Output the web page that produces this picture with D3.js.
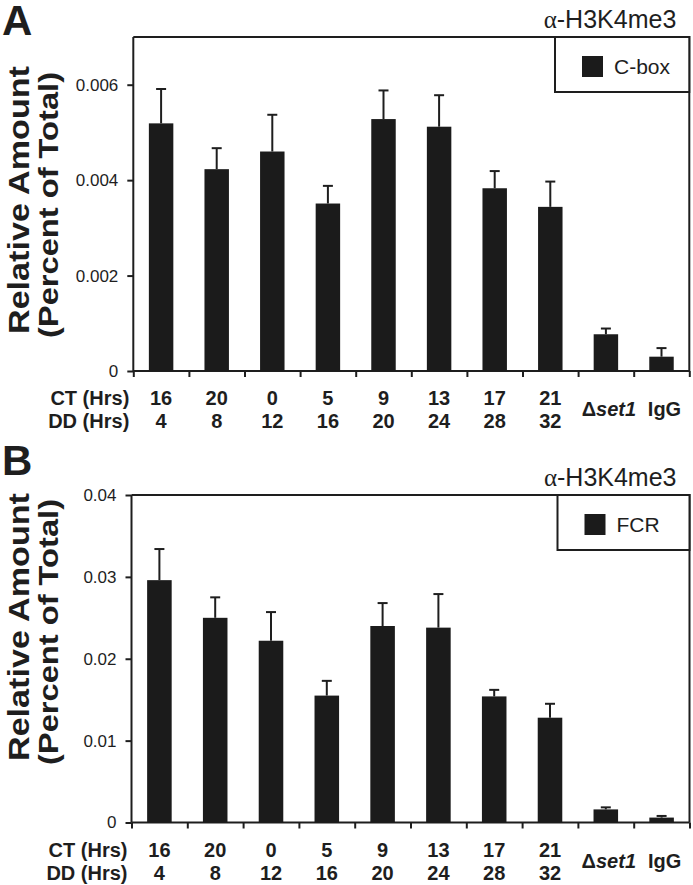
<!DOCTYPE html>
<html>
<head>
<meta charset="utf-8">
<script src="https://cdn.jsdelivr.net/npm/d3@7"></script>
<style>
  html, body { margin: 0; padding: 0; background: #fff; }
  svg { display: block; }
  text { font-family: "Liberation Sans", Arial, Helvetica, sans-serif; fill: #1e1e1e; }
</style>
</head>
<body>
<svg id="chart" width="693" height="885"></svg>
<script>
// ---------- data ----------
const ctLabels = ["16", "20", "0", "5", "9", "13", "17", "21"];
const ddLabels = ["4", "8", "12", "16", "20", "24", "28", "32"];
const controlLabels = ["Δset1", "IgG"];
const categories = ["CT16", "CT20", "CT0", "CT5", "CT9", "CT13", "CT17", "CT21", "set1", "IgG"];

const cboxValues = [0.00519, 0.00423, 0.00460, 0.00351, 0.00528, 0.00512, 0.00383, 0.00344, 0.00077, 0.00030];
const cboxErrors = [0.00072, 0.00044, 0.00077, 0.00037, 0.00060, 0.00066, 0.00036, 0.00053, 0.00012, 0.00018];
const fcrValues  = [0.0296, 0.0250, 0.0222, 0.0155, 0.0240, 0.0238, 0.0154, 0.0128, 0.0016, 0.0006];
const fcrErrors  = [0.0038, 0.0025, 0.0035, 0.0018, 0.0028, 0.0041, 0.0008, 0.0017, 0.00025, 0.0002];

const yTicksA = [0, 0.002, 0.004, 0.006];
const yTickLabelsA = ["0", "0.002", "0.004", "0.006"];
const yTicksB = [0, 0.01, 0.02, 0.03, 0.04];
const yTickLabelsB = ["0", "0.01", "0.02", "0.03", "0.04"];

const svg = d3.select("#chart");
const ink = "#1e1e1e";

function panel(cfg) {
  const g = svg.append("g");
  const x = d3.scaleBand().domain(categories).range([cfg.left, cfg.right]).padding(0);
  const y = d3.scaleLinear().domain([0, cfg.yMax]).range([cfg.bottom, cfg.top]);
  const bw = x.bandwidth() * 0.44;

  // frame (top/right)
  g.append("path")
    .attr("d", `M${cfg.left},${cfg.top}H${cfg.right}V${cfg.bottom}`)
    .attr("fill", "none").attr("stroke", ink).attr("stroke-width", 2);

  // left axis
  const yAxis = d3.axisLeft(y).tickValues(cfg.yTicks)
    .tickFormat((d, i) => cfg.yTickLabels[i]).tickSize(6).tickPadding(9);
  const ya = g.append("g").attr("transform", `translate(${cfg.left},0)`).call(yAxis);
  ya.select(".domain").attr("d", `M0,${cfg.top}V${cfg.bottom}`).attr("stroke", ink).attr("stroke-width", 2);
  ya.selectAll(".tick line").attr("stroke", ink).attr("stroke-width", 2);
  ya.selectAll(".tick text").attr("font-size", 17).attr("font-family", "Liberation Sans, Arial, sans-serif").attr("fill", ink);

  // bottom axis with ticks at band boundaries
  const idx = d3.scaleLinear().domain([0, categories.length]).range([cfg.left, cfg.right]);
  const xAxis = d3.axisBottom(idx).tickValues(d3.range(0, categories.length + 1)).tickSize(6).tickFormat("");
  const xa = g.append("g").attr("transform", `translate(0,${cfg.bottom})`).call(xAxis);
  xa.select(".domain").attr("d", `M${cfg.left},0H${cfg.right}`).attr("stroke", ink).attr("stroke-width", 2);
  xa.selectAll(".tick line").attr("stroke", ink).attr("stroke-width", 2);

  // bars
  g.selectAll("rect.bar").data(cfg.values).join("rect")
    .attr("class", "bar")
    .attr("x", (d, i) => x(categories[i]) + (x.bandwidth() - bw) / 2)
    .attr("width", bw)
    .attr("y", d => y(d))
    .attr("height", d => y(0) - y(d))
    .attr("fill", "#1b1b1b");

  // error bars (upper only)
  const eg = g.append("g").attr("stroke", ink).attr("stroke-width", 2);
  cfg.values.forEach((v, i) => {
    const cx = x(categories[i]) + x.bandwidth() / 2;
    const yt = y(v + cfg.errors[i]);
    eg.append("line").attr("x1", cx).attr("x2", cx).attr("y1", y(v)).attr("y2", yt);
    eg.append("line").attr("x1", cx - 5).attr("x2", cx + 5).attr("y1", yt).attr("y2", yt);
  });

  // legend
  const lg = g.append("g");
  lg.append("rect").attr("x", cfg.legendLeft).attr("y", cfg.top)
    .attr("width", cfg.right - cfg.legendLeft).attr("height", 55)
    .attr("fill", "#fff").attr("stroke", ink).attr("stroke-width", 2);
  lg.append("rect").attr("x", cfg.legendLeft + 27).attr("y", cfg.top + 19)
    .attr("width", 21).attr("height", 21).attr("fill", "#1b1b1b");
  lg.append("text").attr("x", cfg.legendLeft + 59).attr("y", cfg.top + 37)
    .attr("font-size", 21).text(cfg.series);

  // title
  const t = g.append("text").attr("x", cfg.right - 13).attr("y", cfg.top - 9)
    .attr("text-anchor", "end").attr("font-size", 25);
  t.append("tspan").attr("font-family", "Liberation Serif, serif").text("α");
  t.append("tspan").text("-H3K4me3");

  // panel letter
  g.append("text").attr("x", 2).attr("y", cfg.letterY)
    .attr("font-size", 42).attr("font-weight", "bold").text(cfg.letter);

  // y label
  const cy = cfg.labelCenter;
  g.append("text").attr("transform", `translate(29,${cy - 3}) rotate(-90)`)
    .attr("text-anchor", "middle").attr("font-size", 29).attr("font-weight", "bold")
    .attr("textLength", 268).attr("lengthAdjust", "spacingAndGlyphs")
    .text("Relative Amount");
  g.append("text").attr("transform", `translate(58,${cy + 2}) rotate(-90)`)
    .attr("text-anchor", "middle").attr("font-size", 28).attr("font-weight", "bold")
    .attr("textLength", 266).attr("lengthAdjust", "spacingAndGlyphs")
    .text("(Percent of Total)");

  // category labels
  const row1 = cfg.bottom + 34, row2 = cfg.bottom + 57;
  g.append("text").attr("x", cfg.left - 4).attr("y", row1).attr("text-anchor", "end")
    .attr("font-size", 20).attr("font-weight", "bold").text("CT (Hrs)");
  g.append("text").attr("x", cfg.left - 4).attr("y", row2).attr("text-anchor", "end")
    .attr("font-size", 20).attr("font-weight", "bold").text("DD (Hrs)");
  ctLabels.forEach((l, i) => {
    g.append("text").attr("x", x(categories[i]) + x.bandwidth() / 2).attr("y", row1)
      .attr("text-anchor", "middle").attr("font-size", 20).attr("font-weight", "bold").text(l);
  });
  ddLabels.forEach((l, i) => {
    g.append("text").attr("x", x(categories[i]) + x.bandwidth() / 2).attr("y", row2)
      .attr("text-anchor", "middle").attr("font-size", 20).attr("font-weight", "bold").text(l);
  });
  controlLabels.forEach((l, j) => {
    const i = 8 + j;
    const tx = g.append("text").attr("x", x(categories[i]) + x.bandwidth() / 2 + 3).attr("y", cfg.bottom + 45)
      .attr("text-anchor", "middle").attr("font-size", 20).attr("font-weight", "bold");
    if (l.startsWith("Δ")) {
      tx.append("tspan").text("Δ");
      tx.append("tspan").attr("font-style", "italic").text(l.slice(1));
    } else {
      tx.text(l);
    }
  });
}

panel({
  left: 133.3, right: 689.3, top: 37, bottom: 371, yMax: 0.007,
  yTicks: yTicksA, yTickLabels: yTickLabelsA,
  values: cboxValues, errors: cboxErrors, series: "C-box",
  legendLeft: 555, letter: "A", letterY: 35, labelCenter: 203
});
panel({
  left: 131.5, right: 689.5, top: 495, bottom: 822.5, yMax: 0.04,
  yTicks: yTicksB, yTickLabels: yTickLabelsB,
  values: fcrValues, errors: fcrErrors, series: "FCR",
  legendLeft: 557.5, letter: "B", letterY: 475, labelCenter: 630
});
</script>
</body>
</html>
